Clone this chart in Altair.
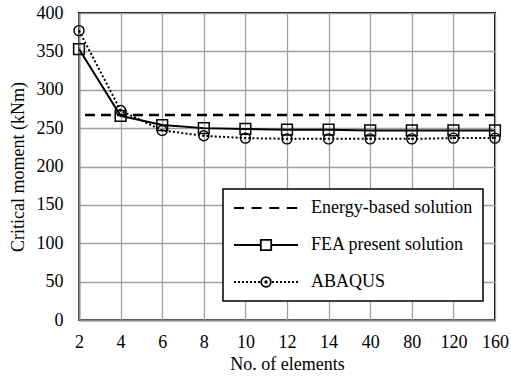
import altair as alt
import pandas as pd

# Mesh sizes (number of elements) along the x axis
elements = ["2", "4", "6", "8", "10", "12", "14", "40", "80", "120", "160"]

# Critical moment (kNm) for each mesh size
fea_present = [353, 266, 254, 250, 249, 248, 248, 247, 247, 247, 247]
abaqus = [377, 273, 247, 240, 237, 236, 236, 236, 236, 237, 237]
energy_based = 267

series_names = ["Energy-based solution", "FEA present solution", "ABAQUS"]

FONT = "Liberation Serif"

fea_df = pd.DataFrame({"elements": elements, "moment": fea_present, "series": series_names[1]})
aba_df = pd.DataFrame({"elements": elements, "moment": abaqus, "series": series_names[2]})
legend_df = pd.DataFrame({
    "elements": [elements[0]] * 3,
    "moment": [energy_based, fea_present[0], abaqus[0]],
    "series": series_names,
})

x_enc = alt.X(
    "elements:O",
    sort=elements,
    scale=alt.Scale(type="point", padding=0),
    axis=alt.Axis(
        title="No. of elements",
        labelAngle=0,
        tickSize=0,
        labelPadding=13,
        titlePadding=4,
        labelOverlap=False,
        grid=True,
    ),
)
y_scale = alt.Scale(domain=[0, 400], nice=False)
y_enc = alt.Y(
    "moment:Q",
    scale=y_scale,
    axis=alt.Axis(
        title="Critical moment (kNm)",
        values=[0, 50, 100, 150, 200, 250, 300, 350, 400],
        tickSize=0,
        labelPadding=16,
        titlePadding=9,
        labelOverlap=False,
        grid=True,
    ),
)

# Legend symbols: line sample with marker, drawn as custom paths
legend_paths = [
    "M-1,0H0.25M1.2,0H2.45M3.4,0H4.65M5.6,0H6.9",
    "M-1,0H2.35M3.65,0H7M2.35,-0.65H3.65V0.65H2.35Z",
    "M-1,0H-0.75M-0.5,0H-0.25M0,0H0.25M0.5,0H0.75M1,0H1.25M1.5,0H1.75M2,0H2.25"
    "M3.75,0H4M4.25,0H4.5M4.75,0H5M5.25,0H5.5M5.75,0H6M6.25,0H6.5M6.75,0H7"
    "M3.6,0A0.6,0.6 0 1,1 2.4,0A0.6,0.6 0 1,1 3.6,0"
    "M3.1,0A0.1,0.1 0 1,1 2.9,0A0.1,0.1 0 1,1 3.1,0",
]

energy_rule = alt.Chart(pd.DataFrame({"moment": [energy_based]})).mark_rule(
    color="black", strokeWidth=2.5, strokeDash=[10, 6]
).encode(y=y_enc)

fea_line = alt.Chart(fea_df).mark_line(color="black", strokeWidth=2).encode(x=x_enc, y=y_enc)
fea_pts = alt.Chart(fea_df).mark_point(
    shape="square", filled=False, color="black", size=115, strokeWidth=1.5, opacity=1
).encode(x=x_enc, y=y_enc)

aba_line = alt.Chart(aba_df).mark_line(
    color="black", strokeWidth=2, strokeDash=[2, 2.2]
).encode(x=x_enc, y=y_enc)
aba_pts = alt.Chart(aba_df).mark_point(
    shape="circle", filled=False, color="black", size=100, strokeWidth=1.4, opacity=1
).encode(x=x_enc, y=y_enc)
aba_dots = alt.Chart(aba_df).mark_point(
    shape="circle", filled=True, color="black", size=4, opacity=1
).encode(x=x_enc, y=y_enc)

legend_layer = alt.Chart(legend_df).mark_point(opacity=0, size=256).encode(
    x=x_enc,
    y=y_enc,
    shape=alt.Shape(
        "series:N",
        scale=alt.Scale(domain=series_names, range=legend_paths),
        legend=alt.Legend(
            title=None,
            orient="none",
            legendX=144,
            legendY=176,
            padding=10,
            rowPadding=19,
            symbolSize=256,
            symbolOpacity=1,
            symbolStrokeColor="black",
            symbolFillColor="white",
            symbolStrokeWidth=1.8,
            labelOffset=60,
            labelFont=FONT,
            labelFontSize=18,
            labelColor="black",
            labelLimit=400,
            strokeColor="black",
            fillColor="white",
        ),
    ),
)

chart = (
    alt.layer(energy_rule, aba_line, fea_line, fea_pts, aba_pts, aba_dots, legend_layer)
    .properties(
        width=416,
        height=307,
        padding={"left": 79, "top": 13, "right": 16, "bottom": 56},
        autosize="none",
    )
    .configure_view(stroke="black", strokeWidth=2)
    .configure_axis(
        labelFont=FONT,
        labelFontSize=18,
        labelColor="black",
        titleFont=FONT,
        titleFontSize=18,
        titleFontWeight="normal",
        titleColor="black",
        gridColor="#a0a0a0",
        gridWidth=1.3,
        gridOpacity=1,
        domainColor="#8c8c8c",
        domainWidth=2,
    )
    .configure_legend(strokeWidth=1.5)
)

chart.save("out.html", embed_options={"renderer": "svg", "actions": False})
